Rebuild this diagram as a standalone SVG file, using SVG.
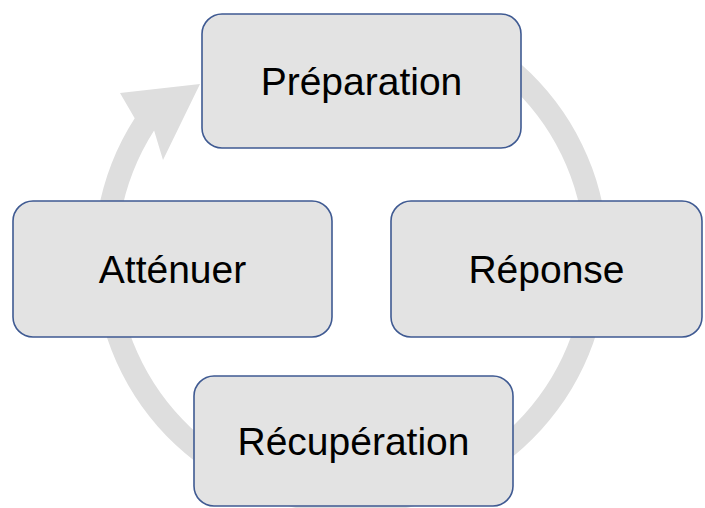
<svg xmlns="http://www.w3.org/2000/svg" width="705" height="508" viewBox="0 0 705 508">
<style>
.box{fill:#e3e3e3;stroke:#3f5a92;stroke-width:1.6}
.lbl{font-family:"Liberation Sans",Arial,sans-serif;font-size:39px;fill:#000;text-anchor:middle}
.ring{fill:#dedede;stroke:none}
</style>
<rect width="705" height="508" fill="#ffffff"/>
<g id="connectors">
<path class="ring" d="M479.5,34.4 A257,257 0 1 1 134.7,118.2 L120,93 L200,84 L163,160 L154.1,130.6 A234,234 0 1 0 468,54.4 Z"/>
</g>
<g id="node-preparation">
<rect class="box" x="202" y="14" width="319" height="134" rx="20"/>
<text class="lbl" x="361.5" y="95">Préparation</text>
</g>
<g id="node-reponse">
<rect class="box" x="391" y="201" width="311" height="136" rx="20"/>
<text class="lbl" x="546.5" y="283">Réponse</text>
</g>
<g id="node-recuperation">
<rect class="box" x="194" y="376" width="319" height="130" rx="20"/>
<text class="lbl" x="353.5" y="455">Récupération</text>
</g>
<g id="node-attenuer">
<rect class="box" x="13" y="201" width="319" height="136" rx="20"/>
<text class="lbl" x="172.5" y="283">Atténuer</text>
</g>
</svg>
